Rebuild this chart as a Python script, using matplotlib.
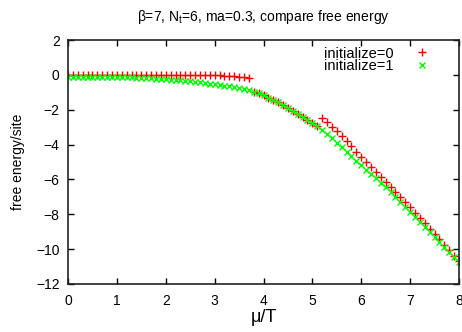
import numpy as np
import matplotlib
matplotlib.use("Agg")
import matplotlib.pyplot as plt

plt.rcParams['font.family'] = ['Liberation Sans', 'DejaVu Sans']
plt.rcParams['mathtext.fontset'] = 'custom'
plt.rcParams['mathtext.rm'] = 'Liberation Sans'
plt.rcParams['mathtext.it'] = 'Liberation Sans:italic'

# mu/T grid, step 0.1
mu = np.round(np.arange(0, 8.01, 0.1), 1)

# initialize=1 (green x)
f_init1 = [-0.10, -0.10, -0.10, -0.10, -0.10, -0.11, -0.11, -0.11, -0.12, -0.12,
           -0.13, -0.13, -0.14, -0.15, -0.16, -0.17, -0.18, -0.20, -0.21, -0.23,
           -0.25, -0.27, -0.29, -0.31, -0.33, -0.36, -0.39, -0.42, -0.46, -0.50,
           -0.54, -0.58, -0.62, -0.66, -0.70, -0.75, -0.80, -0.86, -0.96, -1.06,
           -1.18, -1.30, -1.43, -1.57, -1.72, -1.89, -2.06, -2.23, -2.40, -2.58,
           -2.76, -2.94, -3.14, -3.38, -3.63, -3.90, -4.15, -4.40, -4.66, -4.92,
           -5.18, -5.45, -5.68, -5.93, -6.19, -6.45, -6.73, -7.01, -7.30, -7.58,
           -7.87, -8.16, -8.45, -8.74, -9.03, -9.32, -9.60, -9.89, -10.18, -10.47,
           -10.76]

# initialize=0 (red +)
f_init0 = [0.02, 0.02, 0.02, 0.02, 0.02, 0.02, 0.02, 0.02, 0.02, 0.02,
           0.02, 0.02, 0.02, 0.02, 0.02, 0.02, 0.01, 0.01, 0.01, 0.01,
           0.01, 0.01, 0.01, 0.01, 0.01, 0.00, 0.00, 0.00, -0.01, -0.01,
           -0.02, -0.03, -0.04, -0.06, -0.08, -0.11, -0.15, -0.19, -0.96, -1.06,
           -1.18, -1.30, -1.43, -1.57, -1.72, -1.89, -2.06, -2.23, -2.40, -2.58,
           -2.76, -2.94, -2.47, -2.73, -3.00, -3.25, -3.53, -3.82, -4.11, -4.40,
           -4.69, -4.99, -5.26, -5.55, -5.84, -6.12, -6.42, -6.72, -7.02, -7.31,
           -7.61, -7.91, -8.21, -8.51, -8.82, -9.13, -9.43, -9.74, -10.06, -10.38,
           -10.68]

xticks = [0, 1, 2, 3, 4, 5, 6, 7, 8]
yticks = [2, 0, -2, -4, -6, -8, -10, -12]

fig = plt.figure(figsize=(4.62, 3.32), dpi=100)
ax = fig.add_axes([68/462, 1-284/332, (459-68)/462, (284-40)/332])

ax.plot(mu, f_init0, '+', color='#ff0000', markersize=5.5, markeredgewidth=1.0,
        label='initialize=0')
ax.plot(mu, f_init1, 'x', color='#00ff00', markersize=4, markeredgewidth=1.0,
        label='initialize=1')

ax.set_xlim(0, 8)
ax.set_ylim(-12, 2)
ax.set_xticks(xticks)
ax.set_yticks(yticks)
ax.tick_params(direction='in', length=4, width=1, top=True, right=True,
               labelsize=10, pad=6)
ax.tick_params(axis='x', pad=7)
for s in ax.spines.values():
    s.set_linewidth(1.2)
    s.set_color('#222222')

ax.set_xlabel('μ/T', fontsize=13, labelpad=1)
ax.set_ylabel('free energy/site', fontsize=10, labelpad=8)
ax.set_title(r'β=7, N$\mathregular{_t}$=6, ma=0.3, compare free energy', fontsize=10, pad=14)

ax.legend(loc='upper right', bbox_to_anchor=(0.955, 1.015), markerfirst=False,
          frameon=False, fontsize=10.5, handlelength=1.2, handletextpad=1.4,
          labelspacing=-0.1, borderaxespad=0.3)

fig.savefig('out.png', dpi=100)
